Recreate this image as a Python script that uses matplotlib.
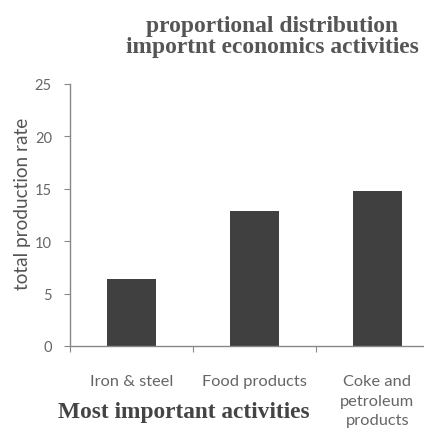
import matplotlib
matplotlib.use("Agg")
import matplotlib.pyplot as plt

categories = ["Iron & steel", "Food products", "Coke and\npetroleum\nproducts"]
values = [6.4, 12.9, 14.8]
yticks = [0, 5, 10, 15, 20, 25]

W, H = 424, 435
fig = plt.figure(figsize=(W/100, H/100), dpi=100)
left, right, top, bottom = 70, 424, 85, 347
ax = fig.add_axes([left/W, 1-bottom/H, (right-left)/W, (bottom-top)/H])

x = list(range(len(categories)))
ax.bar(x, values, width=0.4, color="#404040")
ax.set_xlim(-0.5, 2.38)
ax.set_ylim(0, 25)
ax.set_yticks(yticks)
ax.set_yticklabels([str(t) for t in yticks])
for lab in ax.get_yticklabels():
    lab.set_color("#666666"); lab.set_fontsize(10.5); lab.set_family("Lato")
ax.set_xticks([-0.5, 0.5, 1.5])
ax.set_xticklabels([])
cat_texts = []
for i, c in enumerate(categories):
    t = ax.text(i, -2.7, c, ha="center", va="top", fontsize=10.5, color="#666666",
                family="Lato", linespacing=1.5)
    cat_texts.append(t)
ax.tick_params(axis="y", length=4, color="#888888", pad=9)
ax.tick_params(axis="x", length=4, color="#888888")
for s in ["top", "right"]:
    ax.spines[s].set_visible(False)
for s in ["left", "bottom"]:
    ax.spines[s].set_color("#888888")
    ax.spines[s].set_linewidth(1.0)

ylab = fig.text(23/W, 1-204/H, "total production rate", rotation=90, ha="center", va="center",
                fontsize=11, color="#555555", family="Lato")
title = fig.text(272/W, 1-37/H, "proportional distribution\nimportnt economics activities",
                 ha="center", va="center", fontsize=13, fontweight="bold", color="#555555",
                 family="Liberation Serif", linespacing=1.0)
xlab = fig.text(184/W, 1-413/H, "Most important activities", ha="center", va="center",
                fontsize=13, fontweight="bold", color="#444444", family="Liberation Serif")

def fit(t, target, horizontal=True):
    r = fig.canvas.get_renderer()
    bb = t.get_window_extent(renderer=r)
    cur = bb.width if horizontal else bb.height
    t.set_fontsize(t.get_fontsize() * target / cur)

fit(title, 293)
fit(xlab, 252)
fit(ylab, 172, horizontal=False)
fit(cat_texts[0], 84)
for t in cat_texts[1:]:
    t.set_fontsize(cat_texts[0].get_fontsize())

fig.savefig("out.png", dpi=100)
